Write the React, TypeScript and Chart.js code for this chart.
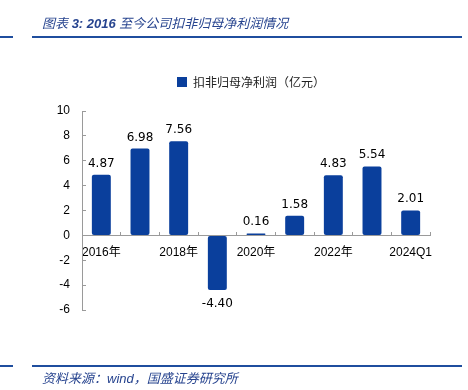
import React, { useEffect, useRef } from 'react';
import { Chart, registerables } from 'chart.js';

Chart.register(...registerables);

const categories = ['2016年', '2017年', '2018年', '2019年', '2020年', '2021年', '2022年', '2023年', '2024Q1'];
const profitValues = [4.87, 6.98, 7.56, -4.4, 0.16, 1.58, 4.83, 5.54, 2.01];
const yTickValues = [-6, -4, -2, 0, 2, 4, 6, 8, 10];
const seriesLabel = '扣非归母净利润（亿元）';
const titleText = ['图表 ', '3: 2016 ', '至今公司扣非归母净利润情况'];
const sourceText = ['资料来源：', 'wind', '，国盛证券研究所'];

const BAR_COLOR = '#0a3f9c';
const AXIS_COLOR = '#9a9a9a';
const BRAND_BLUE = '#1f4e9e';
const TEXT_BLUE = '#27448f';
const TICK_FONT = '"Liberation Sans", "Noto Sans CJK SC"';

const valueLabels = {
  id: 'valueLabels',
  afterDatasetsDraw(chart: any) {
    const { ctx } = chart;
    const meta = chart.getDatasetMeta(0);
    ctx.save();
    ctx.font = '12px "DejaVu Sans"';
    ctx.fillStyle = '#000';
    ctx.textAlign = 'center';
    meta.data.forEach((bar: any, i: number) => {
      const v = profitValues[i];
      const { x, y } = bar.getProps(['x', 'y'], true);
      if (v >= 0) {
        ctx.textBaseline = 'alphabetic';
        ctx.fillText(v.toFixed(2), x, y - 8);
      } else {
        ctx.textBaseline = 'top';
        ctx.fillText(v.toFixed(2), x, y + 8);
      }
    });
    ctx.restore();
  },
};

const legendSpacer = {
  id: 'legendSpacer',
  beforeInit(chart: any) {
    const legend = chart.legend;
    if (!legend) return;
    const fit = legend.fit;
    legend.fit = function () {
      fit.call(this);
      this.height += 13;
    };
  },
  afterLayout(chart: any) {
    const legend = chart.legend;
    if (!legend) return;
    legend.left += 16;
    legend.right += 16;
  },
};

export default function App() {
  const canvasRef = useRef<HTMLCanvasElement | null>(null);

  useEffect(() => {
    if (!canvasRef.current) return;
    const chart = new Chart(canvasRef.current, {
      type: 'bar',
      data: {
        labels: categories,
        datasets: [
          {
            label: seriesLabel,
            data: profitValues,
            backgroundColor: BAR_COLOR,
            borderWidth: 0,
            borderRadius: 2,
            borderSkipped: false,
            barPercentage: 0.49,
            categoryPercentage: 1,
          },
        ],
      },
      options: {
        responsive: false,
        animation: false,
        devicePixelRatio: 1,
        layout: { padding: { top: 66, left: 40, right: 38, bottom: 80 } },
        plugins: {
          legend: {
            display: true,
            position: 'top',
            labels: {
              boxWidth: 10,
              boxHeight: 10,
              padding: 10,
              color: '#222',
              font: { family: '"Noto Sans CJK SC"', size: 12 },
            },
          },
          tooltip: { enabled: false },
        },
        scales: {
          x: {
            position: { y: 0 } as any,
            grid: {
              drawOnChartArea: false,
              color: AXIS_COLOR,
              tickLength: -4,
              offset: true,
            },
            border: { color: AXIS_COLOR, width: 1 },
            ticks: {
              autoSkip: false,
              maxRotation: 0,
              minRotation: 0,
              padding: 14,
              color: '#000',
              font: { family: TICK_FONT, size: 12 },
              callback: (_v: any, i: number) => (i % 2 === 0 ? categories[i] : ''),
            },
            afterFit: (s: any) => {
              s.height = 0;
            },
          },
          y: {
            min: -6,
            max: 10,
            grid: { drawOnChartArea: false, color: AXIS_COLOR, tickLength: -4 },
            border: { color: AXIS_COLOR, width: 1 },
            ticks: {
              stepSize: 2,
              padding: 16,
              color: '#000',
              font: { family: TICK_FONT, size: 12 },
            },
            afterBuildTicks: (s: any) => {
              s.ticks = yTickValues.map((v) => ({ value: v }));
            },
            afterFit: (s: any) => {
              s.width = 42;
            },
          },
        },
      },
      plugins: [valueLabels, legendSpacer],
    });
    return () => chart.destroy();
  }, []);

  const lineStyle = (top: number): React.CSSProperties => ({
    position: 'absolute',
    top,
    height: 2,
    background: BRAND_BLUE,
  });

  return (
    <div
      style={{
        position: 'fixed',
        left: 0,
        top: 0,
        width: 468,
        height: 390,
        background: '#fff',
        overflow: 'hidden',
      }}
    >
      <canvas
        ref={canvasRef}
        width={468}
        height={390}
        style={{ position: 'absolute', left: 0, top: 0, width: 468, height: 390 }}
      />
      <div
        style={{
          position: 'absolute',
          left: 42,
          top: 16,
          height: 16,
          lineHeight: '16px',
          fontSize: 13,
          fontStyle: 'italic',
          color: TEXT_BLUE,
          fontFamily: '"Liberation Sans", "Noto Sans CJK SC", sans-serif',
          whiteSpace: 'nowrap',
        }}
      >
        <span>{titleText[0]}</span>
        <span style={{ fontWeight: 'bold' }}>{titleText[1]}</span>
        <span>{titleText[2]}</span>
      </div>
      <div style={{ ...lineStyle(36), left: 0, width: 13 }} />
      <div style={{ ...lineStyle(36), left: 32, width: 430 }} />
      <div style={{ ...lineStyle(365), left: 0, width: 13 }} />
      <div style={{ ...lineStyle(365), left: 32, width: 430 }} />
      <div
        style={{
          position: 'absolute',
          left: 42,
          top: 371,
          height: 16,
          lineHeight: '16px',
          fontSize: 13,
          fontStyle: 'italic',
          color: TEXT_BLUE,
          fontFamily: '"Liberation Sans", "Noto Sans CJK SC", sans-serif',
          whiteSpace: 'nowrap',
        }}
      >
        {sourceText.join('')}
      </div>
    </div>
  );
}
